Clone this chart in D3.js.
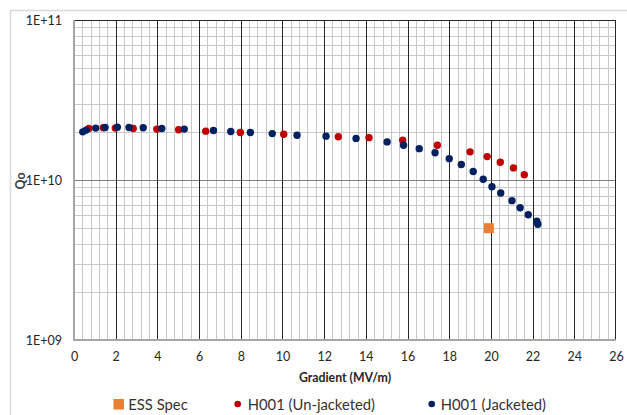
<!DOCTYPE html>
<html><head><meta charset="utf-8">
<script src="https://cdn.jsdelivr.net/npm/d3@7"></script>
<style>body{margin:0;background:#fff}svg{display:block}text{font-family:Lato,"Open Sans",sans-serif}</style>
</head><body><svg id="c" width="627" height="415"></svg>
<script>
const essX = [19.9];
const essY = [5.0e9];
const unjX = [0.71,1.41,1.98,2.84,3.97,5.02,6.32,7.98,10.06,12.68,14.15,15.77,17.43,19.0,19.82,20.45,21.08,21.60];
const unjY = [2.10e10,2.12e10,2.11e10,2.10e10,2.08e10,2.06e10,2.02e10,1.98e10,1.93e10,1.865e10,1.84e10,1.77e10,1.65e10,1.50e10,1.40e10,1.29e10,1.19e10,1.08e10];
const jacX = [0.42,0.58,1.04,1.49,2.08,2.64,3.32,4.21,5.29,6.69,7.52,8.46,9.51,10.70,12.09,13.53,15.02,15.81,16.56,17.32,18.00,18.58,19.15,19.63,20.05,20.47,21.01,21.40,21.79,22.20,22.25];
const jacY = [2.00e10,2.05e10,2.11e10,2.13e10,2.14e10,2.13e10,2.12e10,2.10e10,2.08e10,2.04e10,2.01e10,1.98e10,1.95e10,1.905e10,1.88e10,1.82e10,1.73e10,1.65e10,1.57e10,1.48e10,1.36e10,1.25e10,1.13e10,1.01e10,0.908e10,0.83e10,0.743e10,0.671e10,0.606e10,0.553e10,0.529e10];
const xTicks = [0,2,4,6,8,10,12,14,16,18,20,22,24,26];
const yTicks = [1e9,1e10,1e11];
const yTickLabels = ["1E+09","1E+10","1E+11"];
const seriesNames = ["ESS Spec","H001 (Un-jacketed)","H001 (Jacketed)"];

const svg = d3.select("#c");
const L=74,R=616,T=20,B=340;
const x = d3.scaleLinear().domain([0,26]).range([L,R]);
const y = d3.scaleLog().domain([1e9,1e11]).range([B,T]);

svg.append("rect").attr("x",10.5).attr("y",10.5).attr("width",640).attr("height",420)
  .attr("fill","#fff").attr("stroke","#d9d9d9").attr("stroke-width",1.5);

const g = svg.append("g");
const minorX = d3.range(0,26.001,0.4).filter(v=>Math.abs(v/2-Math.round(v/2))>1e-6);
g.selectAll(".mvx").data(minorX).enter().append("line")
  .attr("x1",d=>Math.round(x(d))+0.5).attr("x2",d=>Math.round(x(d))+0.5).attr("y1",T).attr("y2",B)
  .attr("stroke","#c8c8c8").attr("stroke-width",1);
const minorY=[];
[1e9,1e10].forEach(b=>{for(let k=2;k<=9;k++)minorY.push(b*k);});
g.selectAll(".mhy").data(minorY).enter().append("line")
  .attr("y1",d=>Math.round(y(d))+0.5).attr("y2",d=>Math.round(y(d))+0.5).attr("x1",L).attr("x2",R)
  .attr("stroke","#c8c8c8").attr("stroke-width",1);
g.append("line").attr("x1",L).attr("x2",R).attr("y1",Math.round(y(1e10))+0.5).attr("y2",Math.round(y(1e10))+0.5)
  .attr("stroke","#7f7f7f").attr("stroke-width",1);
g.selectAll(".Mvx").data(xTicks.filter(v=>v>0&&v<26)).enter().append("line")
  .attr("x1",d=>Math.round(x(d))+0.5).attr("x2",d=>Math.round(x(d))+0.5).attr("y1",T).attr("y2",B)
  .attr("stroke","#262626").attr("stroke-width",1);
g.append("line").attr("x1",L).attr("x2",R).attr("y1",T+0.5).attr("y2",T+0.5).attr("stroke","#262626");
g.append("line").attr("x1",R-0.5).attr("x2",R-0.5).attr("y1",T).attr("y2",B).attr("stroke","#262626");
g.append("line").attr("x1",L).attr("x2",L).attr("y1",T).attr("y2",B+1).attr("stroke","#a6a6a6").attr("stroke-width",2);
g.append("line").attr("x1",L).attr("x2",R).attr("y1",B).attr("y2",B).attr("stroke","#a6a6a6").attr("stroke-width",2);

const xAxis = d3.axisBottom(x).tickValues(xTicks).tickSize(0).tickPadding(12);
const xa = svg.append("g").attr("transform",`translate(0,${B})`).call(xAxis);
xa.select(".domain").remove();
xa.selectAll("text").attr("font-size",12.5).attr("fill","#262626").style("font-family","Lato");
const yAxis = d3.axisLeft(y).tickValues(yTicks).tickFormat((d,i)=>yTickLabels[i]).tickSize(0).tickPadding(12);
const ya = svg.append("g").attr("transform",`translate(${L},0)`).call(yAxis);
ya.select(".domain").remove();
ya.selectAll("text").attr("font-size",12.5).attr("fill","#262626").style("font-family","Lato");

svg.append("text").attr("x",(L+R)/2).attr("y",382).attr("text-anchor","middle")
  .attr("font-size",12.3).attr("font-weight","bold").attr("fill","#262626").text("Gradient (MV/m)");
svg.append("text").attr("transform","translate(25,181) rotate(-90)").attr("text-anchor","middle")
  .attr("font-size",12.3).attr("font-weight","bold").attr("fill","#404040").text("Qo");

const colors = ["#ed7d31","#c00000","#002060"];
svg.selectAll(".ess").data(essX.map((v,i)=>[v,essY[i]])).enter().append("rect")
  .attr("x",d=>x(d[0])-5).attr("y",d=>y(d[1])-5).attr("width",10).attr("height",10).attr("fill",colors[0]);
svg.selectAll(".unj").data(unjX.map((v,i)=>[v,unjY[i]])).enter().append("circle")
  .attr("cx",d=>x(d[0])).attr("cy",d=>y(d[1])).attr("r",3.7).attr("fill",colors[1]);
svg.selectAll(".jac").data(jacX.map((v,i)=>[v,jacY[i]])).enter().append("circle")
  .attr("cx",d=>x(d[0])).attr("cy",d=>y(d[1])).attr("r",3.7).attr("fill",colors[2]);

const lg = svg.append("g");
lg.append("rect").attr("x",113.5).attr("y",399).attr("width",10.5).attr("height",10.5).attr("fill",colors[0]);
lg.append("circle").attr("cx",237.7).attr("cy",404).attr("r",3.3).attr("fill",colors[1]);
lg.append("circle").attr("cx",431.7).attr("cy",404).attr("r",3.3).attr("fill",colors[2]);
const lx=[128.3,247.7,440.7];
seriesNames.forEach((n,i)=>lg.append("text").attr("x",lx[i]).attr("y",409.5).attr("font-size",14.8)
  .attr("fill","#333").text(n));
</script></body></html>
